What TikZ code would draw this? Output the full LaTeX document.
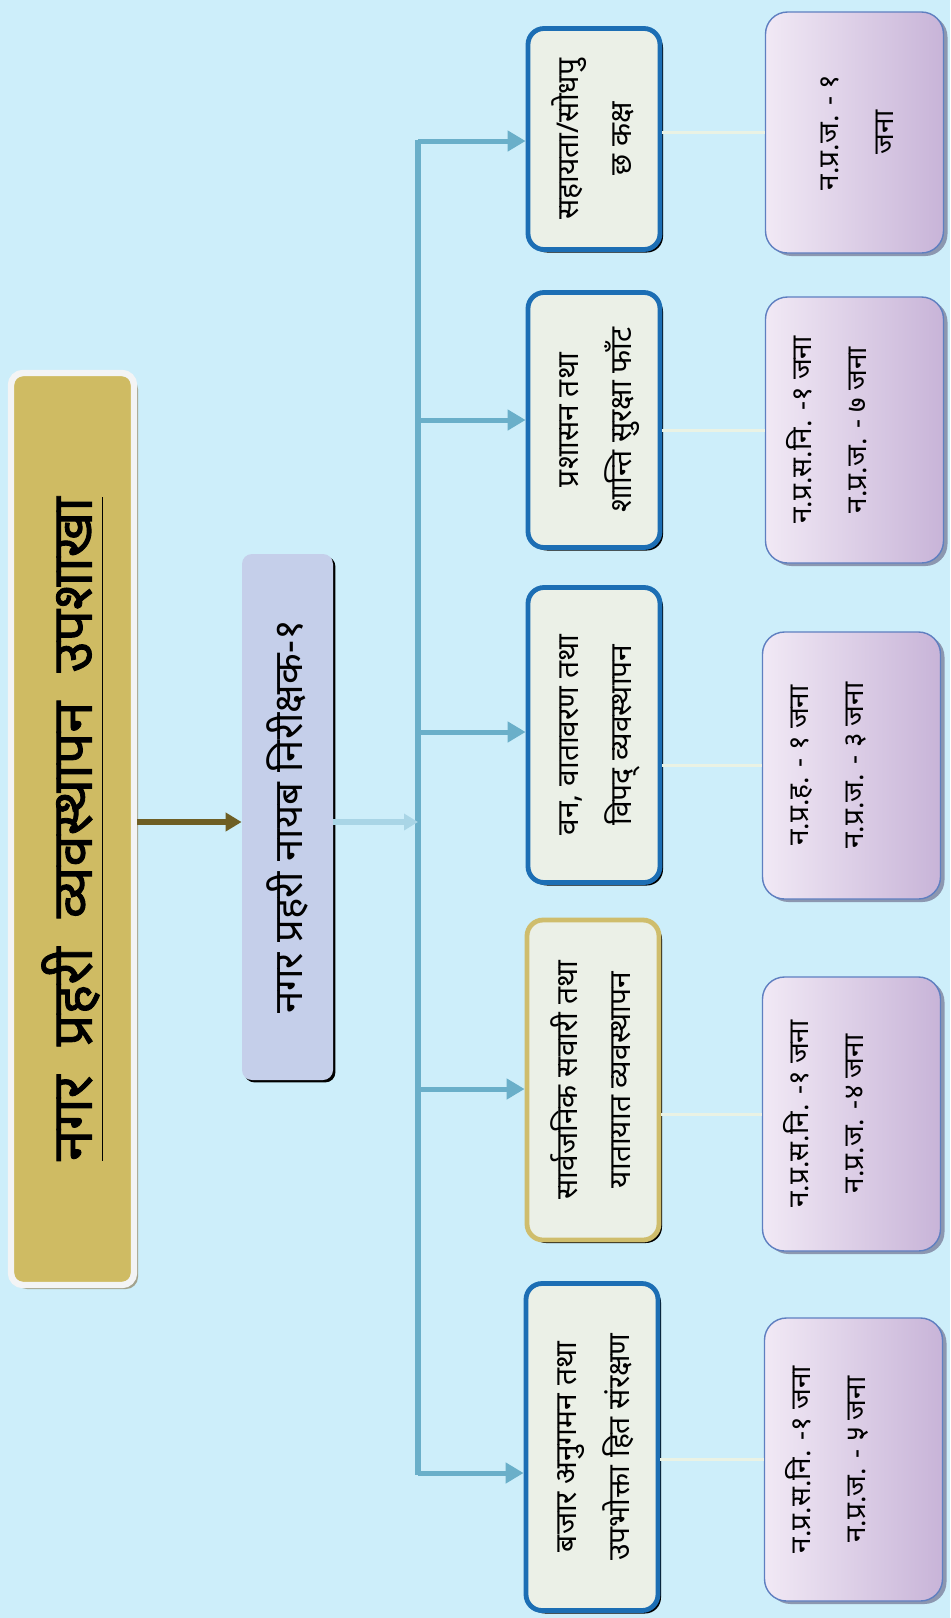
\documentclass[tikz,border=0pt]{standalone}
\usepackage{graphicx}
\usepackage{fontspec}
\newfontfamily\dev[Script=Devanagari,Language=Nepali,WordSpace=1.8]{Noto Sans}
\newfontfamily\devp[Script=Devanagari,Language=Nepali]{Noto Sans}
\newfontfamily\devb[Script=Devanagari,Language=Nepali,FakeBold=1.5,WordSpace=2]{Noto Sans}
\usetikzlibrary{shadows,arrows.meta}
\definecolor{bgc}{HTML}{CDEEFA}
\definecolor{goldf}{HTML}{CFBB63}
\definecolor{titleedge}{HTML}{F3F4F5}
\definecolor{titleshadow}{HTML}{A3A38E}
\definecolor{secondf}{HTML}{C5CFEA}
\definecolor{trunkc}{HTML}{6AAFC9}
\definecolor{olive}{HTML}{6E5E24}
\definecolor{palearrow}{HTML}{A9D5E6}
\definecolor{midf}{HTML}{EBF0E7}
\definecolor{blueedge}{HTML}{1C6EB4}
\definecolor{goldedge}{HTML}{CFBD6C}
\definecolor{purpleL}{HTML}{F1E9F5}
\definecolor{purpleR}{HTML}{C8B4D8}
\definecolor{purpleedge}{HTML}{5F7FC0}
\definecolor{purpleshadow}{HTML}{8C97B0}
\definecolor{thinc}{HTML}{EAF2E4}
\newcommand\vtext[1]{\rotatebox{90}{\begin{tabular}{@{}c@{}}#1\end{tabular}}}
% text shifted towards the left of its box (extra room on the right)
\newcommand\vtextl[1]{\rotatebox{90}{\begin{tabular}{@{}c@{}}#1\end{tabular}\rule[-50pt]{0pt}{0pt}}}
\tikzset{
  titlebox/.style={draw=titleedge, line width=3.2pt, fill=goldf, rounded corners=6pt,
    minimum width=61.5pt, minimum height=456pt, inner sep=0pt,
    drop shadow={shadow xshift=2pt, shadow yshift=-2pt, fill=titleshadow, opacity=1}},
  secondbox/.style={fill=secondf, rounded corners=5pt, minimum width=45.5pt, minimum height=263pt, inner sep=0pt,
    drop shadow={shadow xshift=1.2pt, shadow yshift=-1.2pt, fill=black, opacity=1}},
  midbox/.style={draw=blueedge, line width=2.4pt, fill=midf, rounded corners=8pt, minimum width=66pt, inner sep=0pt,
    drop shadow={shadow xshift=1.5pt, shadow yshift=-1.5pt, fill=black, opacity=1},
    font=\dev\fontsize{15}{26.5}\selectfont},
  purplebox/.style={draw=purpleedge, line width=0.7pt, left color=purpleL, right color=purpleR, rounded corners=11pt,
    minimum width=89pt, inner sep=0pt,
    drop shadow={shadow xshift=2pt, shadow yshift=-1.5pt, fill=purpleshadow, opacity=1},
    font=\devp\fontsize{14}{27.5}\selectfont},
  trunk/.style={draw=trunkc, line width=3pt},
  branch/.style={draw=trunkc, line width=2.5pt, -{Triangle[length=9pt,width=10pt]}},
  thin/.style={draw=thinc, line width=1.5pt},
}
\begin{document}
\begin{tikzpicture}[x=0.5pt,y=-0.5pt]
\useasboundingbox (0,0) rectangle (950,1618);
\fill[bgc] (0,0) rectangle (950,1618);

% title
\node[titlebox] (title) at (72.5,829) {\rotatebox{90}{\devb\fontsize{28}{32}\selectfont\underline{नगर प्रहरी व्यवस्थापन उपशाखा}}};
% second
\node[secondbox] (second) at (287.5,817) {\rotatebox{90}{\dev\fontsize{20}{22}\selectfont नगर प्रहरी नायब निरीक्षक-१}};

% middle boxes
\node[midbox, minimum height=110.5pt] (b1) at (594,139) {\vtext{सहायता/सोधपु\\छ कक्ष}};
\node[midbox, minimum height=127.5pt] (b2) at (594,420) {\vtext{प्रशासन तथा\\शान्ति सुरक्षा फाँट}};
\node[midbox, minimum height=147.5pt] (b3) at (594,735) {\vtext{वन, वातावरण तथा\\विपद् व्यवस्थापन}};
\node[midbox, draw=goldedge, minimum height=160pt] (b4) at (593,1080) {\vtext{सार्वजनिक सवारी तथा\\यातायात व्यवस्थापन}};
\node[midbox, minimum height=163.5pt] (b5) at (592,1447) {\vtext{बजार अनुगमन तथा\\उपभोक्ता हित संरक्षण}};

% purple boxes
\node[purplebox, minimum height=120.5pt] (p1) at (854.5,132.5) {\vtext{न.प्र.ज. - १\\जना}};
\node[purplebox, minimum height=133pt] (p2) at (854.5,430) {\vtextl{न.प्र.स.नि. -१ जना\\न.प्र.ज. - ७ जना}};
\node[purplebox, minimum height=133.5pt] (p3) at (851.5,765.5) {\vtextl{न.प्र.ह. - १ जना\\न.प्र.ज. - ३ जना}};
\node[purplebox, minimum height=137pt] (p4) at (851.5,1114) {\vtextl{न.प्र.स.नि. -१ जना\\न.प्र.ज. -४ जना}};
\node[purplebox, minimum height=141.5pt] (p5) at (853.5,1459.5) {\vtextl{न.प्र.स.नि. -१ जना\\न.प्र.ज. - ५ जना}};

% coordinates
\coordinate (m) at (0,822);
\coordinate (tm) at (418,822);
\coordinate (t1) at (418,141);
\coordinate (t2) at (418,420);
\coordinate (t3) at (418,732);
\coordinate (t4) at (418,1089);
\coordinate (t5) at (418,1473);

% connectors
\draw[olive, line width=3pt, -{Triangle[length=8pt,width=9pt]}] (title.east |- m) -- (second.west |- m);
\draw[trunk] ([yshift=0.75pt]t1) -- ([yshift=-0.75pt]t5);
\draw[palearrow, line width=3pt, -{Triangle[length=7pt,width=8pt]}] (second.east |- m) -- (tm);
\foreach \i in {1,...,5} {
  \draw[branch] (t\i) -- (b\i.west |- t\i);
}
\draw[thin] (p1.west -| b1.east) -- (p1.west);
\draw[thin] (p2.west -| b2.east) -- (p2.west);
\draw[thin] (p3.west -| b3.east) -- (p3.west);
\draw[thin] (p4.west -| b4.east) -- (p4.west);
\draw[thin] (p5.west -| b5.east) -- (p5.west);
\end{tikzpicture}
\end{document}
